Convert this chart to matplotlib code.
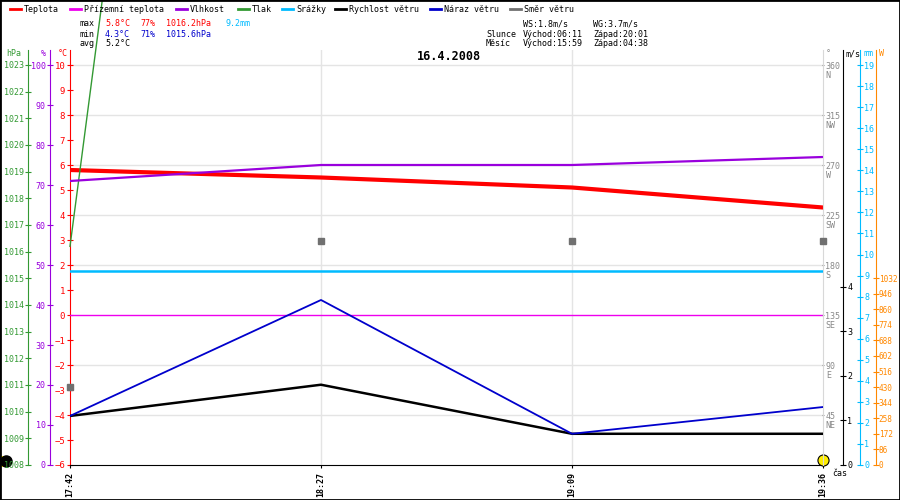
import numpy as np
import matplotlib
matplotlib.use('Agg')
import matplotlib.pyplot as plt
from matplotlib.lines import Line2D
from matplotlib.patches import Rectangle

# data
times = ['17:42', '18:27', '19:09', '19:36']
temperature = [5.8, 5.5, 5.1, 4.3]        # °C
ground_temp = [0.0, 0.0, 0.0, 0.0]         # °C
humidity = [71, 75, 75, 77]                # %
pressure = [1016.2, 1088.0, 1090.0, 1092.0]  # hPa (line runs off the chart)
rain = [9.2, 9.2, 9.2, 9.2]                # mm
wind_speed = [1.1, 1.8, 0.7, 0.7]          # m/s
wind_gust = [1.1, 3.7, 0.7, 1.3]           # m/s
wind_dir = [70, 202, 202, 202]             # deg

hpa_ticks = list(range(1008, 1024))
pct_ticks = list(range(0, 101, 10))
deg_ticks = [45, 90, 135, 180, 225, 270, 315, 360]
deg_names = ['NE', 'E', 'SE', 'S', 'SW', 'W', 'NW', 'N']
ms_ticks = [0, 1, 2, 3, 4]
mm_ticks = list(range(0, 20))
w_ticks = list(range(0, 1033, 86))

RED = '#ff0000'
PURPLE = '#9900dd'
GREEN = '#339933'
CYAN = '#00bbff'
BLUE = '#0000cc'
GRAY = '#707070'
ORANGE = '#ff8800'
MAGENTA = '#ee00ee'
MONO = 'DejaVu Sans Mono'
FS = 6

W_PX, H_PX = 900, 500
L, R, T, B = 70, 823, 50, 465


def px(x, y):
    return x / W_PX, 1 - y / H_PX


fig = plt.figure(figsize=(9, 5), dpi=100)
ax = fig.add_axes([L / W_PX, 1 - B / H_PX, (R - L) / W_PX, (B - T) / H_PX])

ppu = 25.0  # pixels per °C
ax.set_xlim(0, 3)
ax.set_ylim(-6, -6 + (B - T) / ppu)


def ax_pos(xpix):
    return (xpix - L) / (R - L)


# grid
for g in range(-4, 11, 2):
    if g != 0:
        ax.axhline(g, color='#e4e4e4', lw=1, zorder=0)
for xi in [1, 2]:
    ax.axvline(xi, color='#e4e4e4', lw=1, zorder=0)

for s in ['top', 'right']:
    ax.spines[s].set_visible(False)
ax.spines['left'].set_color(RED)
ax.spines['bottom'].set_color('black')
ax.set_yticks(range(-6, 11))
ax.tick_params(axis='y', colors=RED, direction='inout', length=5, labelsize=FS + 0.5, pad=1)
for lab in ax.get_yticklabels():
    lab.set_fontfamily(MONO)
ax.set_xticks(range(len(times)))
ax.set_xticklabels(times, rotation=90, fontfamily=MONO, fontsize=FS, fontweight='bold')
ax.tick_params(axis='x', length=2, pad=3)

x = np.arange(len(times))

ax.plot(x, ground_temp, color=MAGENTA, lw=1, zorder=3)
ax.plot(x, temperature, color=RED, lw=3, zorder=6)


def make_twin(side, pos, color, lo, hi, ticks, size=FS):
    t = ax.twinx()
    t.set_ylim(lo, hi)
    for s in ['top', 'bottom', 'left', 'right']:
        t.spines[s].set_visible(False)
    t.spines[side].set_visible(True)
    t.spines[side].set_color(color)
    t.spines[side].set_position(('axes', pos))
    t.yaxis.set_ticks_position(side)
    t.yaxis.set_label_position(side)
    t.set_yticks(ticks)
    t.tick_params(axis='y', colors=color, direction='inout', length=5, labelsize=size, pad=0.5)
    for lab in t.get_yticklabels():
        lab.set_fontfamily(MONO)
    return t


ax_hpa = make_twin('left', ax_pos(28), GREEN, 1008, 1008 + (B - T) / 26.667, hpa_ticks)
ax_pct = make_twin('left', ax_pos(50), PURPLE, 0, (B - T) / 4.0, pct_ticks)
ax_deg = make_twin('right', 1.0, '#d8d8d8', 0, (B - T) / (200 / 180), deg_ticks)
ax_deg.tick_params(axis='y', colors='#888888', length=2)
ax_ms = make_twin('right', ax_pos(843), 'black', 0, (B - T) / 44.6, ms_ticks)
ax_mm = make_twin('right', ax_pos(860), CYAN, 0, (B - T) / 21.05, mm_ticks)
ax_w = make_twin('right', ax_pos(876), ORANGE, 0, 1032 * (B - T) / 187.0, w_ticks, size=5.6)
ax_w.tick_params(axis='y', length=4, pad=0)

for d, n in zip(deg_ticks, deg_names):
    ax_deg.annotate(n, (1.0, d), xycoords=('axes fraction', 'data'),
                    xytext=(2, -7.5), textcoords='offset points',
                    fontsize=FS, fontfamily=MONO, color='#888888', va='center')

ax_pct.plot(x, humidity, color=PURPLE, lw=1.6, zorder=5)
ax_hpa.plot(x, pressure, color=GREEN, lw=1, clip_on=False, zorder=4)
ax_mm.plot(x, rain, color=CYAN, lw=1.8, zorder=4)
ax_ms.plot(x, wind_speed, color='black', lw=1.8, zorder=4)
ax_ms.plot(x, wind_gust, color=BLUE, lw=1.3, zorder=4)
ax_deg.plot(x, wind_dir, ls='none', marker='s', ms=4, color=GRAY, clip_on=False, zorder=7)

# sun / moon markers
ax.plot([-0.255], [-5.82], marker='o', ms=8, color='black', clip_on=False, zorder=8)
ax.plot([-0.27], [-5.82], marker='o', ms=7, color='#ffee00', clip_on=False, zorder=7)
ax.plot([3], [-5.8], marker='o', ms=8, color='#ffee00', mec='black', mew=0.8,
        clip_on=False, zorder=8)

# axis headers
for xp, txt, col in [(6, 'hPa', GREEN), (41, '%', PURPLE), (58, '°C', RED),
                     (826, '°', '#888888'), (846, 'm/s', 'black'),
                     (863, 'mm', CYAN), (879, 'W', ORANGE)]:
    fig.text(*px(xp, 54), txt, color=col, fontsize=FS, fontfamily=MONO,
             ha='left', va='center')
fig.text(*px(832, 473), 'čas', fontsize=FS, fontfamily=MONO, ha='left', va='center')

# title
fig.text(*px(449, 57), '16.4.2008', fontsize=8.5, fontweight='bold', fontfamily=MONO,
         ha='center', va='center')

# legend
legend_items = [(10, 'Teplota', RED), (70, 'Přízemní teplota', MAGENTA), (176, 'Vlhkost', PURPLE),
                (238, 'Tlak', GREEN), (282, 'Srážky', CYAN), (335, 'Rychlost větru', 'black'),
                (430, 'Náraz větru', BLUE), (510, 'Směr větru', GRAY)]
for xp, txt, col in legend_items:
    x0, y0 = px(xp, 9)
    x1, _ = px(xp + 11, 9)
    fig.add_artist(Line2D([x0, x1], [y0, y0], color=col, lw=2, transform=fig.transFigure))
    fig.text(*px(xp + 14, 9), txt, fontsize=FS, fontfamily=MONO, va='center', ha='left')


# statistics
def stat(xp, yp, txt, col='black'):
    fig.text(*px(xp, yp), txt, fontsize=FS, fontfamily=MONO, color=col, va='center', ha='left')


stat(80, 24, 'max')
stat(80, 34, 'min')
stat(80, 44, 'avg')
stat(105, 24, '5.8°C', RED)
stat(140, 24, '77%', RED)
stat(166, 24, '1016.2hPa', RED)
stat(225, 24, '9.2mm', CYAN)
stat(105, 34, '4.3°C', BLUE)
stat(140, 34, '71%', BLUE)
stat(166, 34, '1015.6hPa', BLUE)
stat(105, 44, '5.2°C')

stat(523, 24, 'WS:1.8m/s')
stat(593, 24, 'WG:3.7m/s')
stat(486, 34, 'Slunce')
stat(523, 34, 'Východ:06:11')
stat(593, 34, 'Západ:20:01')
stat(486, 44, 'Měsíc')
stat(523, 44, 'Východ:15:59')
stat(593, 44, 'Západ:04:38')

fig.patches.append(Rectangle((0, 0), 1, 1, transform=fig.transFigure, fill=False,
                             edgecolor='black', lw=2))

fig.savefig('out.png', dpi=100)
